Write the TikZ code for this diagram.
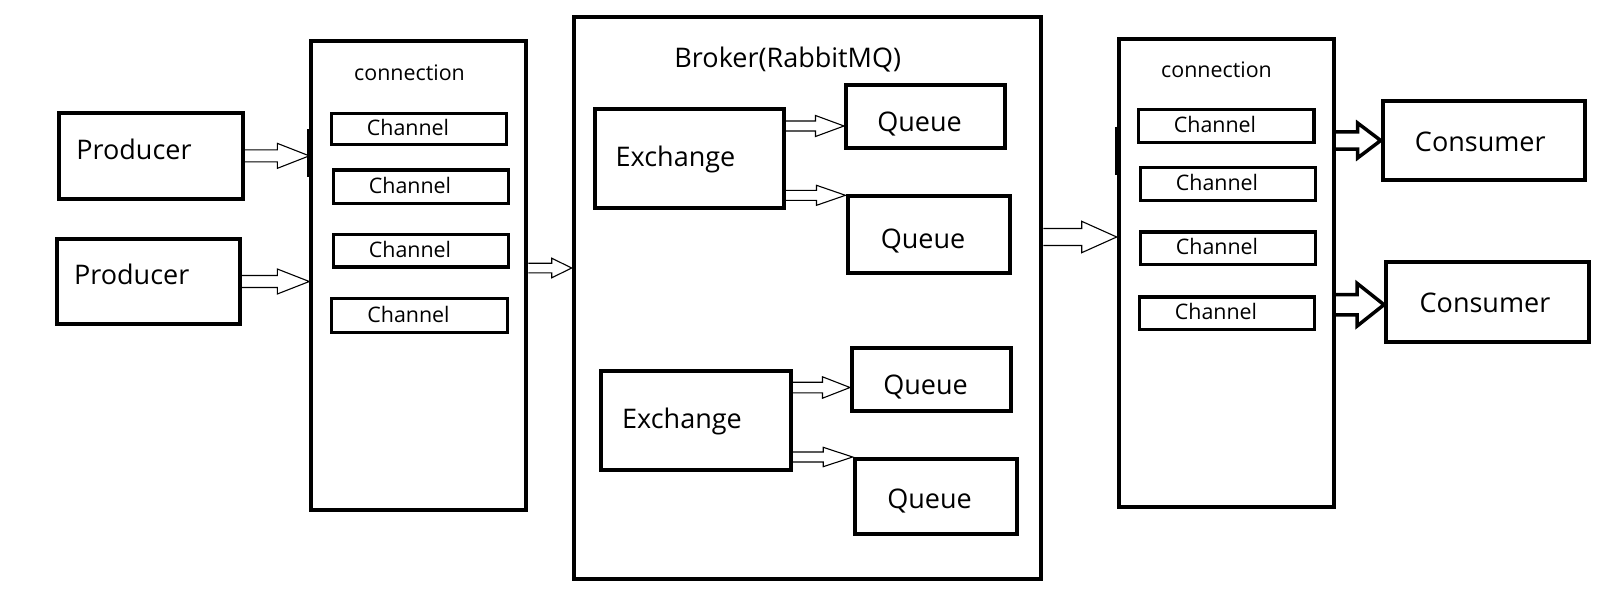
\documentclass[tikz,border=0pt]{standalone}
\usepackage{fontspec}
\setmainfont{Open Sans}
\usetikzlibrary{fit,calc}
\tikzset{
  box/.style={draw, line width=4pt, inner sep=0pt, rectangle},
  chbox/.style={draw, line width=3.5pt, inner sep=0pt, rectangle},
  big/.style={font=\fontsize{27}{32}\selectfont, inner sep=0pt, anchor=base},
  small/.style={font=\fontsize{21.4}{26}\selectfont, inner sep=0pt, anchor=base},
  thinarrow/.style={draw, line width=1.1pt},
  boldarrow/.style={draw, line width=3.5pt, line join=miter},
  edgemark/.style={line width=2.5pt},
}
% #1 style, #2 from anchor, #3 to anchor, #4 y reference, #5 shaft half, #6 head half, #7 head length
\newcommand\harrow[7]{%
  \path[#1] let \p1=(#2 |- #4), \p2=(#3 |- #4) in
    (\x1,\y1+#5) -- (\x2-#7,\y1+#5) -- (\x2-#7,\y1+#6) -- (\x2,\y1)
    -- (\x2-#7,\y1-#6) -- (\x2-#7,\y1-#5) -- (\x1,\y1-#5);}
\begin{document}
\begin{tikzpicture}[x=1pt, y=-1pt]
\useasboundingbox[fill=white] (0,0) rectangle (1624,610);

% producers
\node[box, fit={(58.7,113) (242.7,198.7)}] (p1) {};
\node[box, fit={(57,238.7) (240,324.3)}] (p2) {};
\node[big] (p1t) at (134,159.3) {Producer};
\node[big] (p2t) at (131.7,284) {Producer};

% left connection
\node[box, fit={(311.3,41.3) (526.3,510.3)}] (connL) {};
\node[small] (connLt) at (409.5,81) {connection};
\node[chbox, fit={(331.5,113.3) (506.6,144.7)}] (chL1) {};
\node[chbox, fit={(333.6,170) (508.7,203.3)}] (chL2) {};
\node[chbox, fit={(333.6,234.7) (508.7,267)}] (chL3) {};
\node[chbox, fit={(331.5,298.3) (507.6,332.6)}] (chL4) {};
\node[small] (chL1t) at (408,135.8) {Channel};
\node[small] (chL2t) at (410,193) {Channel};
\node[small] (chL3t) at (410,257) {Channel};
\node[small] (chL4t) at (408.5,322.5) {Channel};
\draw[edgemark] (308.5,129) coordinate (mL1) -- (308.5,177) coordinate (mL2);

% broker
\node[box, fit={(573.7,17) (1041.3,578.7)}] (broker) {};
\node[big] (brokert) at (787.8,67.3) {Broker(RabbitMQ)};
\node[box, fit={(595,109.3) (784,208)}] (ex1) {};
\node[box, fit={(601,371) (790.5,469.7)}] (ex2) {};
\node[big] (ex1t) at (675.5,166) {Exchange};
\node[big] (ex2t) at (682,428) {Exchange};
\node[box, fit={(846,85.3) (1004.7,148)}] (q1) {};
\node[box, fit={(847.5,195.8) (1010,272.5)}] (q2) {};
\node[box, fit={(852,348) (1010.5,410.5)}] (q3) {};
\node[box, fit={(854.7,459) (1017,533.5)}] (q4) {};
\node[big] (q1t) at (919.5,131.7) {Queue};
\node[big] (q2t) at (923,248) {Queue};
\node[big] (q3t) at (925.5,394) {Queue};
\node[big] (q4t) at (929.5,508) {Queue};

% right connection
\node[box, fit={(1118.7,38.7) (1333.5,507)}] (connR) {};
\node[small] (connRt) at (1216.5,77.3) {connection};
\node[chbox, fit={(1138.5,109.3) (1314,142.7)}] (chR1) {};
\node[chbox, fit={(1140.3,167.3) (1315.3,200.7)}] (chR2) {};
\node[chbox, fit={(1140.3,232) (1315.3,264.7)}] (chR3) {};
\node[chbox, fit={(1139.3,297) (1314.3,329.7)}] (chR4) {};
\node[small] (chR1t) at (1215,132.5) {Channel};
\node[small] (chR2t) at (1217,190.7) {Channel};
\node[small] (chR3t) at (1217,254.3) {Channel};
\node[small] (chR4t) at (1216,319.3) {Channel};
\draw[edgemark] (1116,126.7) coordinate (mR1) -- (1116,175) coordinate (mR2);

% consumers
\node[box, fit={(1382.7,101.3) (1585.3,180.3)}] (c1) {};
\node[box, fit={(1386,262) (1589.3,342)}] (c2) {};
\node[big] (c1t) at (1480.3,151.7) {Consumer};
\node[big] (c2t) at (1485,312.3) {Consumer};

% arrow heights
\coordinate (a3) at (0,268);
\coordinate (a4) at (0,126);
\coordinate (a5) at (0,195.3);
\coordinate (a6) at (0,387.5);
\coordinate (a7) at (0,457);
\coordinate (a8) at (0,237);
\coordinate (a9) at (0,140.5);
\coordinate (a10) at (0,304.7);

% arrows
\harrow{thinarrow}{p1.east}{connL.west}{p1.east}{6}{12.5}{32}
\harrow{thinarrow}{p2.east}{connL.west}{p2.east}{6}{12.5}{32}
\harrow{thinarrow}{connL.east}{broker.west}{a3}{4.8}{9.8}{20}
\harrow{thinarrow}{ex1.east}{q1.west}{a4}{5}{10.5}{28.5}
\harrow{thinarrow}{ex1.east}{q2.west}{a5}{5}{10}{29}
\harrow{thinarrow}{ex2.east}{q3.west}{a6}{5.3}{10.7}{27.5}
\harrow{thinarrow}{ex2.east}{q4.west}{a7}{5}{9.7}{29.5}
\harrow{thinarrow}{broker.east}{connR.west}{a8}{8.5}{15.7}{35}
\harrow{boldarrow}{connR.east}{c1.west}{a9}{8.6}{17.4}{23}
\harrow{boldarrow}{connR.east}{c2.west}{a10}{10.2}{21.4}{27}
\end{tikzpicture}
\end{document}
